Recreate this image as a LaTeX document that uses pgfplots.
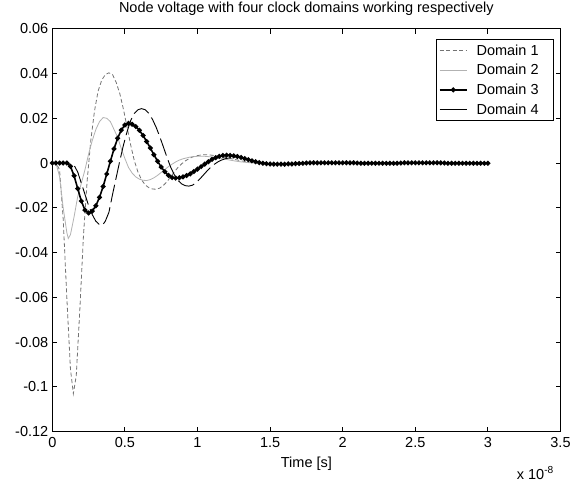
\documentclass[border=0pt]{standalone}
\usepackage{fontspec}
\setmainfont{Liberation Sans}
\usepackage{pgfplots}
\pgfplotsset{compat=1.18}
\begin{document}
\begin{tikzpicture}[font=\fontsize{14.5}{17}\selectfont]
\useasboundingbox (-52.3pt,-51.3pt) rectangle (520.7pt,431.7pt);
\begin{axis}[
  name=ax,
  at={(0,0)}, anchor=south west,
  scale only axis, width=508.2pt, height=403pt,
  xmin=0, xmax=3.5, ymin=-0.12, ymax=0.06,
  xtick={0,0.5,1,1.5,2,2.5,3,3.5},
  xticklabels={0,0.5,1,1.5,2,2.5,3,3.5},
  ytick={-0.12,-0.1,-0.08,-0.06,-0.04,-0.02,0,0.02,0.04,0.06},
  yticklabels={-0.12,-0.1,-0.08,-0.06,-0.04,-0.02,0,0.02,0.04,0.06},
  xticklabel style={yshift=-2.5pt},
  yticklabel style={xshift=-0.5pt},
  tick align=inside, major tick length=5pt,
  axis line style={line width=0.9pt},
  every tick/.style={line width=0.9pt, black},
  title={Node voltage with four clock domains working respectively},
  title style={at={(0.5,1)}, anchor=base, yshift=10.5pt},
  xlabel={Time [s]},
  xlabel style={at={(0.5,0)}, anchor=base, yshift=-35.5pt},
  legend cell align=left,
  legend style={at={(1,1)}, anchor=north east, xshift=-6.5pt, yshift=-10.3pt,
    draw=black, line width=0.8pt, fill=white, inner xsep=3pt, inner ysep=1.5pt,
    nodes={inner xsep=4pt, inner ysep=3.8pt},
    /tikz/every odd column/.append style={column sep=5pt}},
  legend image code/.code={\draw[mark repeat=2,mark phase=2,#1] plot coordinates {(0pt,0pt) (13.5pt,0pt) (27pt,0pt)};},
]
% Domain 1
\addplot[black!55, line width=0.8pt, dash pattern=on 4pt off 2.5pt] coordinates {
(0,0) (0.025,0) (0.05,-0.003) (0.075,-0.025) (0.1,-0.060) (0.125,-0.092) (0.145,-0.103)
(0.165,-0.095) (0.19,-0.065) (0.215,-0.032) (0.24,-0.008) (0.265,0.010) (0.29,0.023)
(0.315,0.032) (0.34,0.037) (0.365,0.0395) (0.39,0.0403) (0.415,0.0395) (0.44,0.036)
(0.465,0.031) (0.49,0.024) (0.515,0.016) (0.54,0.008) (0.565,0.001) (0.59,-0.004)
(0.615,-0.0075) (0.64,-0.0098) (0.665,-0.011) (0.69,-0.0116) (0.715,-0.0117) (0.74,-0.0112)
(0.765,-0.0100) (0.79,-0.0083) (0.815,-0.0062) (0.84,-0.0040) (0.865,-0.0020) (0.89,-0.0004)
(0.915,0.0009) (0.94,0.0019) (0.965,0.0027) (0.99,0.0032) (1.015,0.0035) (1.04,0.0037)
(1.065,0.0037) (1.1,0.0035) (1.15,0.0030) (1.2,0.0024) (1.25,0.0017) (1.3,0.0010)
(1.35,0.0004) (1.4,0.0000)};
\addlegendentry{Domain 1\hspace*{8pt}}
% Domain 2
\addplot[black!30, line width=0.8pt] coordinates {
(0,0) (0.025,0) (0.05,-0.006) (0.075,-0.020) (0.1,-0.031) (0.11,-0.0337) (0.125,-0.032)
(0.15,-0.024) (0.175,-0.015) (0.2,-0.009) (0.225,-0.003) (0.25,0.004) (0.275,0.010)
(0.3,0.015) (0.325,0.0185) (0.35,0.0203) (0.375,0.0200) (0.4,0.0185) (0.425,0.015)
(0.45,0.0115) (0.475,0.0065) (0.5,0.002) (0.525,-0.002) (0.55,-0.0045) (0.575,-0.0062)
(0.6,-0.0072) (0.625,-0.0077) (0.65,-0.0078) (0.675,-0.0074) (0.7,-0.0066) (0.725,-0.0055)
(0.75,-0.0042) (0.775,-0.0029) (0.8,-0.0016) (0.825,-0.0005) (0.85,0.0005) (0.875,0.0013)
(0.9,0.0019) (0.95,0.0027) (1.0,0.0030) (1.05,0.0030) (1.1,0.0027) (1.15,0.0022)
(1.2,0.0016) (1.25,0.0010) (1.3,0.0005) (1.35,0.0002) (1.4,0.0000)};
\addlegendentry{Domain 2}
% Domain 3
\addplot[black, line width=1.6pt, mark=*, mark size=1.6pt] coordinates {
(0,0) (0.025,0) (0.05,0) (0.075,0) (0.1,0) (0.125,-0.0015) (0.15,-0.0057) (0.175,-0.0114)
(0.2,-0.0170) (0.225,-0.0210) (0.25,-0.0223) (0.275,-0.0215) (0.3,-0.0191) (0.325,-0.0153)
(0.35,-0.0105) (0.375,-0.0049) (0.4,0.0008) (0.425,0.0063) (0.45,0.0111) (0.475,0.0147)
(0.5,0.0170) (0.525,0.0177) (0.55,0.0173) (0.575,0.0163) (0.6,0.0146) (0.625,0.0123)
(0.65,0.0096) (0.675,0.0067) (0.7,0.0037) (0.725,0.0008) (0.75,-0.0018) (0.775,-0.0039)
(0.8,-0.0055) (0.825,-0.0065) (0.85,-0.0067) (0.875,-0.0066) (0.9,-0.0062) (0.925,-0.0056)
(0.95,-0.0048) (0.975,-0.0038) (1.0,-0.0027) (1.025,-0.0016) (1.05,-0.0005) (1.075,0.0006)
(1.1,0.0016) (1.125,0.0024) (1.15,0.0030) (1.175,0.0034) (1.2,0.0035) (1.225,0.0034)
(1.25,0.0032) (1.275,0.0029) (1.3,0.0025) (1.325,0.0020) (1.35,0.0015) (1.375,0.0010)
(1.4,0.0006) (1.425,0.0002) (1.45,-0.0001) (1.475,-0.0003) (1.5,-0.0004) (1.525,-0.0005)
(1.55,-0.0005) (1.575,-0.0005) (1.6,-0.0005) (1.625,-0.0004) (1.65,-0.0004) (1.675,-0.0003)
(1.7,-0.0002) (1.725,-0.0001) (1.75,0) (1.775,0.0001) (1.8,0.0001) (1.825,0.0001)
(1.85,0.0001) (1.875,0.0001) (1.9,0.0001) (1.925,0.0001) (1.95,0.0001) (1.975,0.0001)
(2.0,0.0001) (2.025,0.0001) (2.05,0.0001) (2.075,0.0001) (2.1,0) (2.125,-0.0001)
(2.15,-0.0001) (2.175,-0.0001) (2.2,-0.0001) (2.225,-0.0001) (2.25,-0.0001) (2.275,-0.0001)
(2.3,-0.0001) (2.325,-0.0001) (2.35,-0.0001) (2.375,-0.0001) (2.4,0) (2.425,0.0001)
(2.45,0.0001) (2.475,0.0001) (2.5,0.0001) (2.525,0.0001) (2.55,0.0001) (2.575,0.0001)
(2.6,0.0001) (2.625,0.0001) (2.65,0.0001) (2.675,0.0001) (2.7,0) (2.725,-0.0001)
(2.75,-0.0001) (2.775,-0.0001) (2.8,-0.0001) (2.825,-0.0001) (2.85,-0.0001) (2.875,-0.0001)
(2.9,-0.0001) (2.925,-0.0001) (2.95,-0.0001) (2.975,-0.0001) (3.0,-0.0001)};
\addlegendentry{Domain 3}
% Domain 4
\addplot[black, line width=0.9pt, dash pattern=on 18pt off 5pt,
  legend image code/.code={\draw[black, line width=0.9pt, solid] (0pt,0pt) -- (27pt,0pt);}] coordinates {
(0,0) (0.1,0) (0.15,-0.001) (0.175,-0.004) (0.2,-0.009) (0.225,-0.014) (0.25,-0.019)
(0.275,-0.023) (0.3,-0.026) (0.325,-0.0275) (0.345,-0.0278) (0.365,-0.026) (0.39,-0.022)
(0.415,-0.014) (0.44,-0.0065) (0.465,0.001) (0.49,0.008) (0.515,0.014) (0.54,0.019)
(0.565,0.0222) (0.59,0.0238) (0.615,0.0243) (0.64,0.0238) (0.665,0.0222) (0.69,0.0195)
(0.715,0.0160) (0.74,0.0118) (0.765,0.0072) (0.79,0.0025) (0.815,-0.0018) (0.84,-0.0052)
(0.865,-0.0077) (0.89,-0.0093) (0.915,-0.0101) (0.94,-0.0103) (0.965,-0.0099) (0.99,-0.0088)
(1.015,-0.0072) (1.04,-0.0054) (1.065,-0.0036) (1.09,-0.0020) (1.115,-0.0006) (1.14,0.0005)
(1.165,0.0013) (1.19,0.0019) (1.22,0.0023) (1.25,0.0025) (1.28,0.0025) (1.31,0.0023)
(1.34,0.0019) (1.37,0.0014) (1.4,0.0009)};
\addlegendentry{Domain 4}
\end{axis}
\node[anchor=base east, inner sep=0pt, xshift=-6.5pt, yshift=-47.3pt] at (ax.south east) {x 10\textsuperscript{-8}};
\end{tikzpicture}
\end{document}
